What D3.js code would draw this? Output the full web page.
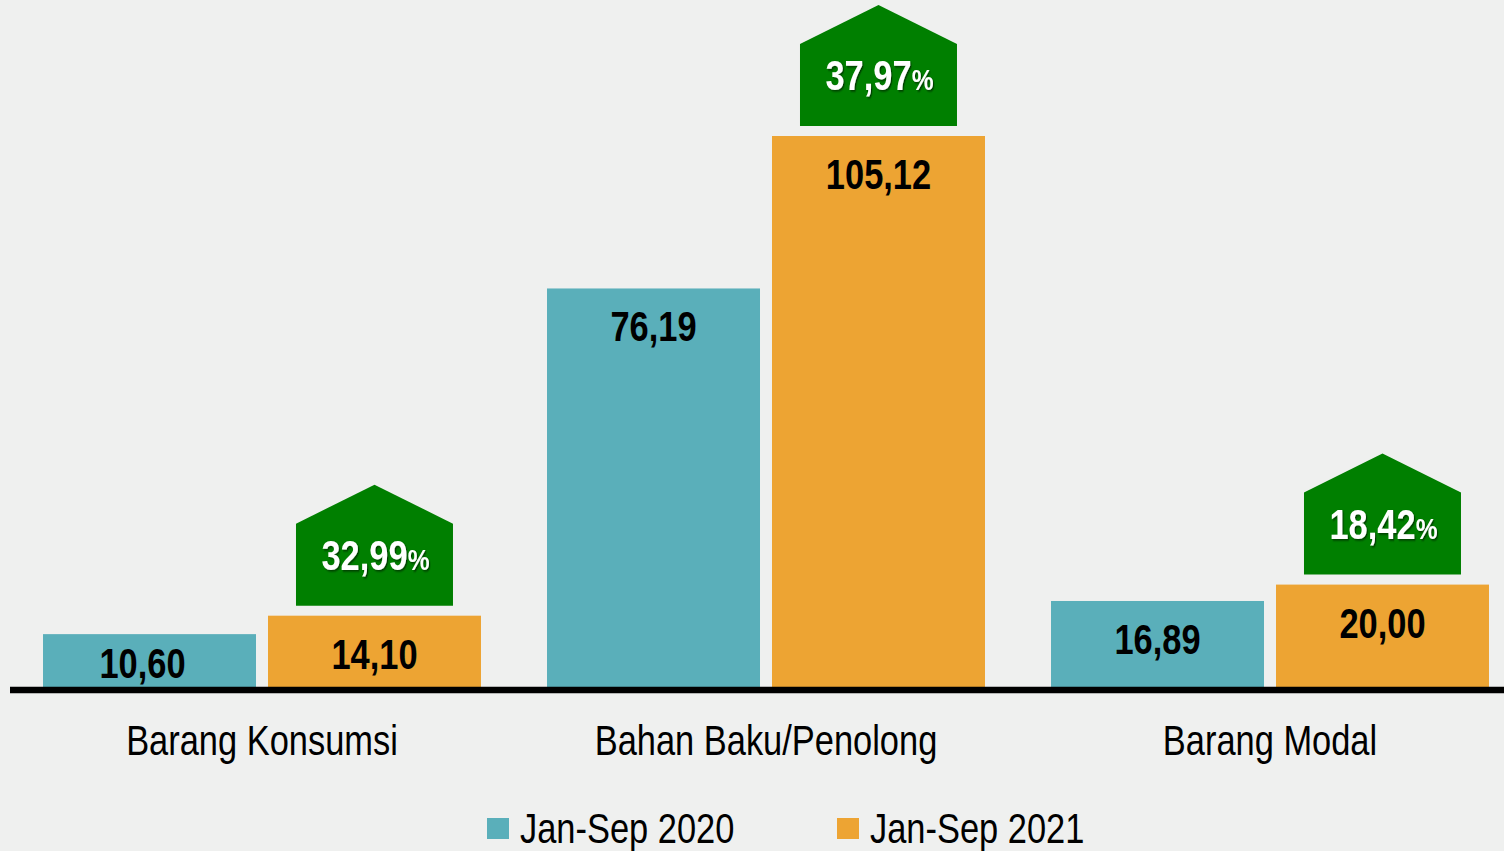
<!DOCTYPE html>
<html>
<head>
<meta charset="utf-8">
<script src="https://cdn.jsdelivr.net/npm/d3@7"></script>
<style>
    html, body { margin: 0; padding: 0; background: #eff0ef; }
    svg { display: block; }
    text { font-family: "Liberation Sans", Arial, sans-serif; }
</style>
</head>
<body>
<div id="chart"></div>
<script>
var categories = ["Barang Konsumsi", "Bahan Baku/Penolong", "Barang Modal"];
var series = ["Jan-Sep 2020", "Jan-Sep 2021"];
var values2020 = [10.60, 76.19, 16.89];
var values2021 = [14.10, 105.12, 20.00];
var growth = [32.99, 37.97, 18.42];

var colors = ["#5aafba", "#eda433"]
    , badgeColor = "#007f00";

var W = 1504, H = 851
    , narrow = 0.82;   // squeeze Liberation Sans to look like Arial Narrow

var fmt = function(v) { return d3.format(".2f")(v).replace(".", ","); };

var svg = d3.select("#chart")
    .append("svg")
    .attr("width", W)
    .attr("height", H);

var defs = svg.append("defs");
var shadow = defs.append("filter").attr("id", "shadow")
    .attr("x", "-20%").attr("y", "-20%").attr("width", "140%").attr("height", "140%");
shadow.append("feDropShadow")
    .attr("dx", 1.5).attr("dy", 1.5).attr("stdDeviation", 0.8)
    .attr("flood-color", "#000").attr("flood-opacity", 0.55);

// places a narrow text at (x, y)
function ntext(sel, fx, fy) {
    return sel.append("g")
        .attr("transform", (d, i) => "translate(" + fx(d, i) + "," + fy(d, i) + ") scale(" + narrow + ",1)")
        .append("text");
}

var x0 = d3.scaleBand()
    .domain(categories)
    .range([10, 1522])
    .paddingInner(0.131)
    .paddingOuter(0.0655);

var x1 = d3.scaleBand()
    .domain(series)
    .range([0, x0.bandwidth()])
    .paddingInner(0.0533);

var y = d3.scaleLinear()
    .domain([0, 105.12])
    .range([690, 136]);

var rows = categories.map(function(c, i) {
    return { cat: c, vals: [values2020[i], values2021[i]], growth: growth[i] };
});

var groups = svg.append("g")
    .selectAll(".grp")
    .data(rows)
    .enter().append("g")
    .attr("class", "grp")
    .attr("transform", d => "translate(" + x0(d.cat) + ",0)");

var bars = groups.selectAll(".bar")
    .data(d => d.vals.map((v, j) => ({ s: series[j], v: v, j: j })))
    .enter();

bars.append("rect")
    .attr("x", d => x1(d.s))
    .attr("y", d => y(d.v))
    .attr("width", x1.bandwidth())
    .attr("height", d => y(0) - y(d.v))
    .attr("fill", d => colors[d.j]);

ntext(bars, d => x1(d.s) + x1.bandwidth() / 2 - (y(d.v) + 53 > 678 ? 7 : 0), d => Math.min(y(d.v) + 53, 678))
    .attr("text-anchor", "middle")
    .attr("font-size", 42)
    .attr("font-weight", "bold")
    .attr("fill", "#000")
    .text(d => fmt(d.v));

// green "house" badge above the 2021 bar
var bw = 157, roof = 39, bh = 121, gap = 10;

var badge = groups.append("g")
    .attr("transform", function(d) {
        var cx = x1(series[1]) + x1.bandwidth() / 2;
        return "translate(" + cx + "," + (y(d.vals[1]) - gap) + ")";
    });

badge.append("path")
    .attr("d", "M" + (-bw / 2) + ",0 L" + (bw / 2) + ",0 L" + (bw / 2) + "," + (roof - bh) +
        " L0," + (-bh) + " L" + (-bw / 2) + "," + (roof - bh) + "Z")
    .attr("fill", badgeColor);

var bt = ntext(badge, () => 1, () => -36)
    .attr("text-anchor", "middle")
    .attr("fill", "#fff")
    .attr("font-weight", "bold")
    .attr("filter", "url(#shadow)");
bt.append("tspan").attr("font-size", 42).text(d => fmt(d.growth));
bt.append("tspan").attr("font-size", 30).text("%");

// baseline
svg.append("line")
    .attr("x1", 10).attr("x2", W)
    .attr("y1", y(0)).attr("y2", y(0))
    .attr("stroke", "#000")
    .attr("stroke-width", 6.5);

var catLabels = svg.append("g")
    .selectAll("g")
    .data(categories)
    .enter();

ntext(catLabels, d => x0(d) + x0.bandwidth() / 2, () => 755)
    .attr("text-anchor", "middle")
    .attr("font-size", 42)
    .attr("fill", "#000")
    .text(d => d);

// legend
var legendX = [487, 837];
var leg = svg.append("g")
    .selectAll("g")
    .data(series)
    .enter().append("g")
    .attr("transform", (d, i) => "translate(" + legendX[i] + ",818)");

leg.append("rect")
    .attr("width", 22).attr("height", 21)
    .attr("fill", (d, i) => colors[i]);

ntext(leg, () => 33, () => 25)
    .attr("font-size", 42)
    .attr("fill", "#000")
    .text(d => d);
</script>
</body>
</html>
